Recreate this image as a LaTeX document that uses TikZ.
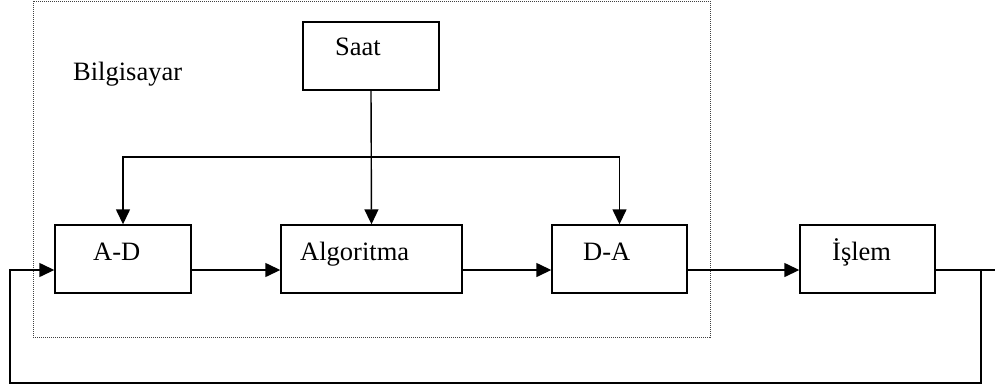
\documentclass[tikz,border=0pt]{standalone}
\usepackage{fontspec}
\setmainfont{Liberation Serif}
\usetikzlibrary{arrows.meta}
\begin{document}
\begin{tikzpicture}[x=1pt,y=-1pt,
  blk/.style={draw,line width=1.4pt,minimum height=68pt,inner sep=0pt},
  txt/.style={anchor=base west,inner sep=0pt,font=\fontsize{26.5}{31}\selectfont},
  conn/.style={line width=1.4pt},
  arr/.style={conn,-{Triangle[length=15pt,width=14pt]}}]
\useasboundingbox (0,0) rectangle (995,389);
% dotted computer boundary
\draw[densely dotted,line width=1pt,draw=black!75] (33,1) rectangle (710,337);
% blocks
\node[blk,minimum width=136pt] (saat) at (371,56) {};
\node[blk,minimum width=136pt] (ad) at (123,259) {};
\node[blk,minimum width=181pt] (alg) at (371.5,259) {};
\node[blk,minimum width=135pt] (da) at (619.5,259) {};
\node[blk,minimum width=135pt] (islem) at (867.5,259) {};
% texts
\node[txt] (tbil) at (73,80) {Bilgisayar};
\node[txt] (tsaat) at (335,55) {Saat};
\node[txt] (tad) at (93,260) {A-D};
\node[txt] (talg) at (300,260) {Algoritma};
\node[txt] (tda) at (583,260) {D-A};
\node[txt] (tisl) at (832,260) {İşlem};
% clock distribution
\coordinate (bus) at (371,157);
\draw[arr] (saat.south) -- (alg.north);
\draw[arr] (bus) -| (ad.north);
\draw[arr] (bus) -| (da.north);
% forward path (connectors meet the blocks below their middle)
\draw[arr] ([yshift=-11pt]ad.east) -- ([yshift=-11pt]alg.west);
\draw[arr] ([yshift=-11pt]alg.east) -- ([yshift=-11pt]da.west);
\draw[arr] ([yshift=-11pt]da.east) -- ([yshift=-11pt]islem.west);
% output and feedback
\coordinate (out) at (995,270);
\coordinate (j) at (981,270);
\coordinate (fb) at (10,383);
\draw[conn] ([yshift=-11pt]islem.east) -- (out);
\draw[arr] (j) |- (fb) |- ([yshift=-11pt]ad.west);
\end{tikzpicture}
\end{document}
